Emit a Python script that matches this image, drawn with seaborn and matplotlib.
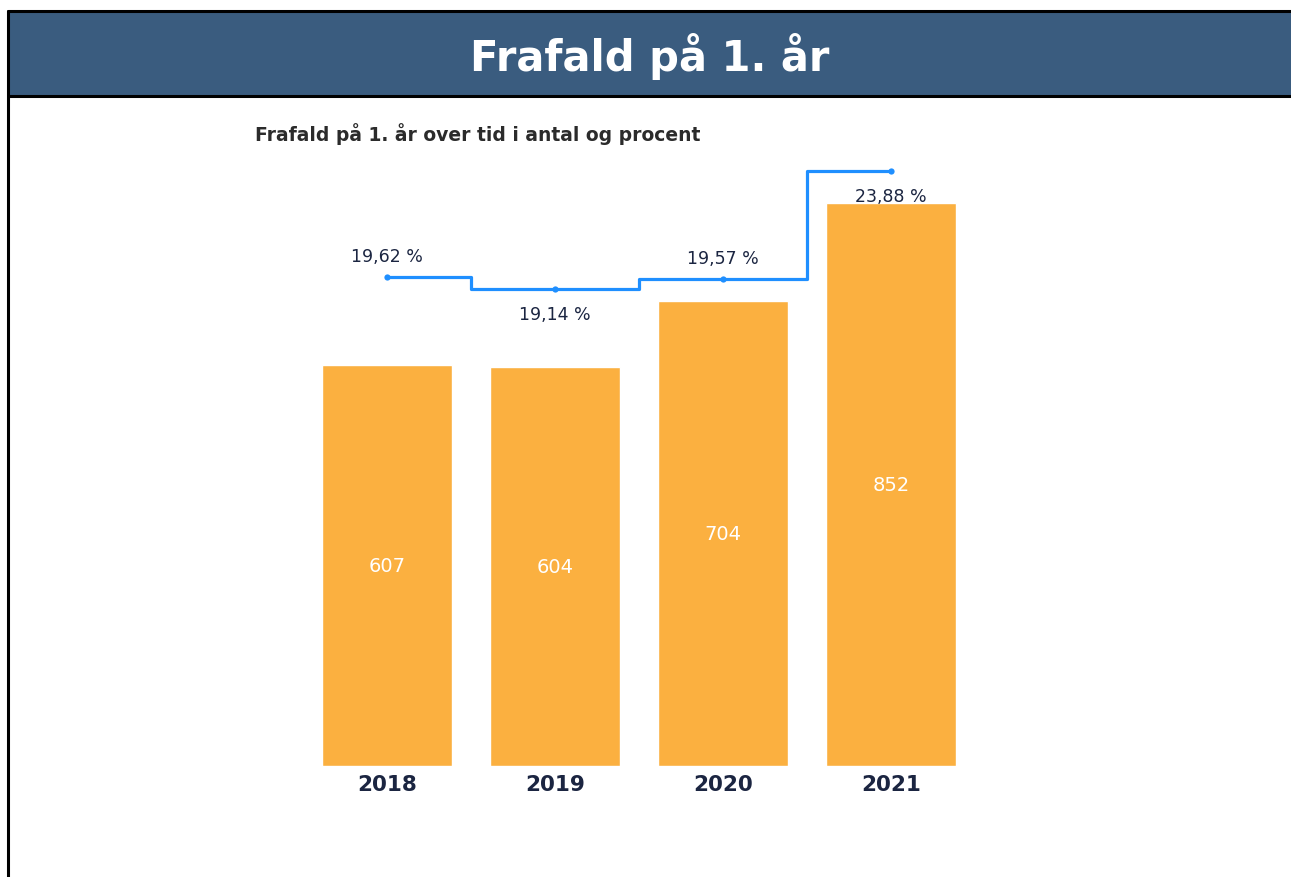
import numpy as np
import pandas as pd
import seaborn as sns
import matplotlib.pyplot as plt
from matplotlib.patches import Rectangle
from matplotlib.lines import Line2D

# --- Data ---
years = ['2018', '2019', '2020', '2021']
dropouts = [607, 604, 704, 852]
dropout_pct = [19.62, 19.14, 19.57, 23.88]
pct_label_side = ['above', 'below', 'above', 'below']

df = pd.DataFrame({'year': years, 'antal': dropouts, 'procent': dropout_pct})
df['pos'] = np.arange(len(df))

# --- Colours ---
HEADER_BLUE = '#3a5c7f'
BAR_ORANGE = '#fbb040'
LINE_BLUE = '#1f8fff'
NAVY = '#1b2541'

sns.set_theme(style='white')
plt.rcParams['font.family'] = ['DejaVu Sans']

W, H = 1291, 878
fig = plt.figure(figsize=(W / 100, H / 100), dpi=100)
fig.patch.set_facecolor('white')

# header banner + frame
fig.add_artist(Rectangle((8 / W, 1 - 97 / H), 1, 86 / H, transform=fig.transFigure,
                         facecolor=HEADER_BLUE, edgecolor='none'))
for xs, ys in [([8, W], [12, 12]), ([8, W], [97, 97]), ([8, 8], [12, H])]:
    fig.add_artist(Line2D([x / W for x in xs], [1 - y / H for y in ys],
                          transform=fig.transFigure, color='black', lw=2.2))
fig.text(650 / W, 1 - 56 / H, 'Frafald på 1. år', color='white', fontsize=30,
         fontweight='bold', ha='center', va='center')
fig.text(255 / W, 1 - 134 / H, 'Frafald på 1. år over tid i antal og procent',
         color='#2b2b2b', fontsize=13.5, fontweight='bold', ha='left', va='center')

# plot area in pixels: categories 168 px apart
left, right, bottom, top = 303, 975, 767, 160
ax = fig.add_axes([left / W, 1 - bottom / H, (right - left) / W, (bottom - top) / H])

sns.barplot(data=df, x='year', y='antal', color=BAR_ORANGE, saturation=1,
            width=0.77, ax=ax)
ax.set_ylim(0, (bottom - top) / 0.661)
ax.set_xlim(-0.5, len(years) - 0.5)
for i, v in enumerate(dropouts):
    ax.text(i, v / 2, f'{v}', color='white', fontsize=14, ha='center', va='center')

ax.set_xlabel('')
ax.set_ylabel('')
ax.set_yticks([])
ax.tick_params(axis='x', length=0, pad=6)
for lbl in ax.get_xticklabels():
    lbl.set_fontweight('bold')
    lbl.set_fontsize(15.5)
    lbl.set_color(NAVY)
for s in ax.spines.values():
    s.set_visible(False)

# percentage step line on a second axis
ax2 = ax.twinx()
sns.lineplot(data=df, x='pos', y='procent', color=LINE_BLUE, linewidth=2.3,
             drawstyle='steps-mid', marker='o', markersize=4.5,
             markeredgewidth=0, ax=ax2)
ax2.set_ylim(0, (bottom - top) / 24.9)
ax2.set_xlim(-0.5, len(years) - 0.5)
ax2.set_yticks([])
ax2.set_ylabel('')
for s in ax2.spines.values():
    s.set_visible(False)
for i, (v, side) in enumerate(zip(dropout_pct, pct_label_side)):
    off = 21 if side == 'above' else -25
    ax2.annotate(f'{v:.2f} %'.replace('.', ','), (i, v), xytext=(0, off),
                 textcoords='offset pixels', ha='center', va='center',
                 fontsize=12.5, color=NAVY)

fig.savefig('out.png', dpi=100)
